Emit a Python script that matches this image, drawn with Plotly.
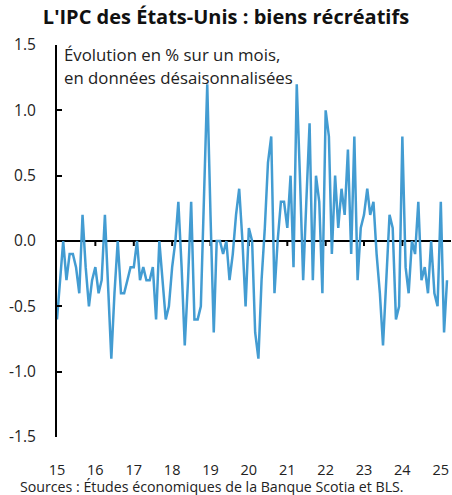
import pandas as pd
import plotly.graph_objects as go

# Monthly % change, seasonally adjusted, Jan 2015 onward
start_month = "2015-01-01"
values = [
    -0.6, -0.3, 0.0, -0.3, -0.1, -0.1, -0.2, -0.4, 0.2, -0.2, -0.5, -0.3,   # 2015
    -0.2, -0.4, -0.3, 0.2, -0.4, -0.9, -0.4, 0.0, -0.4, -0.4, -0.3, -0.2,   # 2016
    -0.2, 0.0, -0.3, -0.2, -0.3, -0.3, -0.2, -0.6, 0.0, -0.3, -0.6, -0.5,   # 2017
    -0.2, 0.0, 0.3, -0.2, -0.8, -0.3, 0.3, -0.6, -0.6, -0.5, 0.3, 1.2,      # 2018
    0.2, -0.7, 0.0, 0.0, -0.1, 0.0, -0.3, -0.1, 0.2, 0.4, 0.0, -0.5,        # 2019
    0.1, 0.0, -0.7, -0.9, -0.3, 0.1, 0.6, 0.8, -0.4, 0.0, 0.3, 0.3,         # 2020
    0.1, 0.5, -0.2, 1.2, 0.5, -0.3, 0.3, 0.9, -0.3, 0.5, 0.3, -0.4,         # 2021
    1.0, 0.8, -0.1, 0.5, 0.1, 0.4, 0.2, 0.7, -0.1, 0.8, -0.3, 0.1,          # 2022
    0.2, 0.4, 0.2, 0.3, -0.1, -0.4, -0.8, -0.3, 0.2, 0.1, -0.6, -0.5,       # 2023
    0.8, -0.2, -0.4, 0.0, -0.1, 0.3, -0.3, -0.2, -0.4, 0.0, -0.4, -0.5,     # 2024
    0.3, -0.7, -0.3,                                                        # 2025
]
dates = pd.date_range(start_month, periods=len(values), freq="MS")

year_ticks = [f"{y}-01-01" for y in range(2015, 2026)]
year_labels = [str(y)[2:] for y in range(2015, 2026)]
y_ticks = [1.5, 1.0, 0.5, 0.0, -0.5, -1.0, -1.5]
y_labels = ["1.5", "1.0", "0.5", "0.0", "-0.5", "-1.0", "-1.5"]

title_text = "<b>L'IPC des États-Unis : biens récréatifs</b>"
note_lines = ["Évolution en % sur un mois,", "en données désaisonnalisées"]
source_text = "Sources : Études économiques de la Banque Scotia et BLS."

FONT = "Open Sans"
LINE_COLOR = "#439CD2"

fig = go.Figure()
fig.add_trace(go.Scatter(
    x=dates, y=values, mode="lines",
    line=dict(color=LINE_COLOR, width=2.5),
    hoverinfo="skip", showlegend=False,
))

# small downward tick marks on the zero line
shapes = []
for d in year_ticks[1:]:
    shapes.append(dict(
        type="line", xref="x", yref="y", x0=d, x1=d,
        ysizemode="pixel", yanchor=0, y0=0, y1=-5,
        line=dict(color="black", width=2), layer="below",
    ))

annotations = [
    dict(text=note_lines[0], xref="paper", yref="paper", x=0.012, y=1,
         xanchor="left", yanchor="middle", yshift=-9, showarrow=False,
         font=dict(family=FONT, size=16.8, color="#222")),
    dict(text=note_lines[1], xref="paper", yref="paper", x=0.012, y=1,
         xanchor="left", yanchor="middle", yshift=-32, showarrow=False,
         font=dict(family=FONT, size=16.8, color="#222")),
    dict(text=source_text, xref="paper", yref="paper", x=-0.099, y=0,
         xanchor="left", yanchor="middle", yshift=-49, showarrow=False,
         font=dict(family=FONT, size=14.2, color="#222")),
]

fig.update_layout(
    width=452, height=495,
    margin=dict(l=57, r=1, t=45, b=58),
    paper_bgcolor="white", plot_bgcolor="white",
    font=dict(family=FONT, size=14, color="#222"),
    title=dict(text=title_text, x=0.5, xref="container", xanchor="center",
               y=1 - 17 / 495, yref="container", yanchor="middle",
               font=dict(family=FONT, size=20, color="#111")),
    shapes=shapes,
    annotations=annotations,
    xaxis=dict(
        type="date", range=["2015-01-01", "2025-04-08"],
        tickvals=year_ticks, ticktext=year_labels,
        showgrid=False, zeroline=False, showline=False, ticks="",
        ticklabelstandoff=22, tickfont=dict(size=14.5),
    ),
    yaxis=dict(
        range=[-1.5, 1.5], tickvals=y_ticks, ticktext=y_labels,
        showgrid=False, zeroline=True, zerolinecolor="black", zerolinewidth=2,
        showline=True, linecolor="black", linewidth=2,
        ticks="inside", ticklen=5, tickwidth=2, tickcolor="black",
        ticklabelstandoff=16, tickfont=dict(size=15.5),
    ),
)

fig.write_html("out.html", config={"displayModeBar": False},
               post_script="document.body.style.margin='0';")
